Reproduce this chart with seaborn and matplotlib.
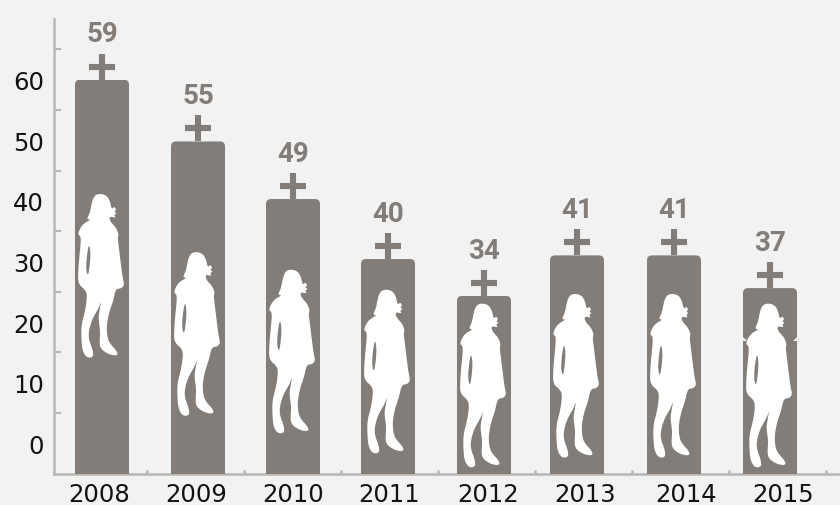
import numpy as np
import pandas as pd
import seaborn as sns
from matplotlib import pyplot as plt
from matplotlib.patches import FancyBboxPatch, PathPatch, Polygon
from matplotlib.path import Path
from matplotlib.transforms import Affine2D, IdentityTransform

years = ['2008', '2009', '2010', '2011', '2012', '2013', '2014', '2015']
# height of each bar read against the axis numbers
bar_values = [60, 49.8, 40.3, 30.4, 24.3, 31, 31, 25.6]
# number printed above each bar (does not match the axis in the original)
top_labels = [59, 55, 49, 40, 34, 41, 41, 37]
# where the head of each figure starts, in axis units
figure_tops = [41.1, 31.5, 28.6, 25.3, 23, 24.6, 24.6, 23]
y_labels = [0, 10, 20, 30, 40, 50, 60]

# the original is hand laid out, so the x axis just runs in pixels
bar_centres = [102, 198, 293, 388, 484, 577, 674, 770]
label_centres = [99, 196, 293, 389, 488, 585, 686, 783]

BG = '#f2f2f2'
BAR = '#827d78'
AXIS = '#b9b6b1'

# silhouette, zoomed pixels, y pointing down
outline = [
    (385, 252), (398, 254), (409, 262), (416, 278), (420, 298), (428, 290), (434, 300), (427, 306),
    (436, 310), (427, 315), (433, 324), (417, 320), (413, 325), (418, 338), (432, 352), (441, 372),
    (438, 386), (440, 400), (446, 450), (453, 505), (458, 524), (449, 536), (432, 537), (424, 575),
    (413, 605), (405, 645), (406, 675), (412, 698), (438, 726), (436, 738), (410, 733), (388, 718),
    (383, 700), (386, 665), (380, 625), (383, 605), (389, 572), (381, 595), (363, 625), (353, 655),
    (350, 685), (364, 722), (365, 742), (345, 744), (332, 722), (329, 685), (329, 645), (340, 605),
    (346, 565), (344, 543), (320, 523), (319, 490), (323, 440), (329, 380), (318, 374), (327, 352),
    (338, 340), (358, 329), (345, 328), (355, 308), (360, 280), (366, 262), (374, 254),
]
arm_gap = [(352, 400), (345, 440), (343, 480), (349, 499), (354, 470), (357, 430)]


def smooth(ring, rounds=2):
    # corner cutting, the trace is only a rough polygon
    for _ in range(rounds):
        nxt = np.roll(ring, -1, axis=0)
        ring = np.column_stack([0.75 * ring + 0.25 * nxt, 0.25 * ring + 0.75 * nxt]).reshape(-1, 2)
    return ring


def silhouette_path():
    pts = smooth(np.array(outline, dtype=float))
    hole = smooth(np.array(arm_gap, dtype=float))
    area = lambda p: np.sum(p[:, 0] * np.roll(p[:, 1], -1) - np.roll(p[:, 0], -1) * p[:, 1])
    if np.sign(area(pts)) == np.sign(area(hole)):
        hole = hole[::-1]
    verts, codes = [], []
    for ring in (pts, hole):
        ring = (ring - [385, 253]) / 3
        verts += list(ring) + [ring[0]]
        codes += [Path.MOVETO] + [Path.LINETO] * (len(ring) - 1) + [Path.CLOSEPOLY]
    return Path(verts, codes)


df = pd.DataFrame({'pos': bar_centres, 'value': bar_values})
df['height'] = df['value'] + 5  # bars start at the foot of the axis, not at 0

sns.set_style('ticks', {'axes.facecolor': BG, 'figure.facecolor': BG})
plt.rcParams['font.family'] = ['DejaVu Sans']

fig = plt.figure(figsize=(8.4, 5.06), dpi=100)
ax = fig.add_axes([53.5 / 840, 31.5 / 506, 786.5 / 840, 455 / 506])

# native width unit is the smallest gap between bars (93 here), bars are 54 wide
sns.barplot(data=df, x='pos', y='height', native_scale=True, color=BAR, saturation=1,
            width=54 / 93, bottom=-5, linewidth=0, zorder=3, ax=ax)

ax.set_xlim(53.5, 840)
ax.set_ylim(-5, 70.1)
ax.set_xlabel('')
ax.set_ylabel('')

# labels sit on their own spacing, the small marks on another one
ax.set_xticks(label_centres, years)
ax.set_xticks([147 + 97 * k for k in range(8)], minor=True)
ax.tick_params(axis='x', which='major', length=0, pad=6, labelsize=17.5, labelcolor='#111111')
ax.tick_params(axis='x', which='minor', direction='in', length=3, width=1.8, color=AXIS)

ax.set_yticks(y_labels)
ax.set_yticks(np.arange(5, 70, 10), minor=True)
ax.tick_params(axis='y', which='major', length=0, pad=7, labelsize=17.5, labelcolor='#111111')
ax.tick_params(axis='y', which='minor', direction='in', length=5, width=1.5, color=AXIS)

for side in ['top', 'right']:
    ax.spines[side].set_visible(False)
for side in ['left', 'bottom']:
    ax.spines[side].set_color(AXIS)
    ax.spines[side].set_linewidth(1.8)

# crosses on top of the bars
unit_px = 455 / 75.1
cross_y = [v + 13 / unit_px for v in bar_values]
sns.scatterplot(x=bar_centres, y=cross_y, marker='+', s=18.7 ** 2, linewidth=4.4,
                color=BAR, zorder=3, ax=ax, legend=False)

for x, v, lab in zip(bar_centres, bar_values, top_labels):
    ax.annotate(str(lab), (x, v), xytext=(0, 33), textcoords='offset points', ha='center',
                va='center', color=BAR, fontsize=20, fontweight='bold', family='Roboto')

# rounded top corners on the bars
for bar in ax.patches:
    box = bar.get_window_extent()
    r = 5
    clip = FancyBboxPatch((box.x0 + r, box.y0 - 10 + r), box.width - 2 * r, box.height + 10 - 2 * r,
                          boxstyle=f'round,pad={r},rounding_size={r}', transform=IdentityTransform())
    bar.set_clip_path(clip)

# the 2015 bar has a small notch on each side where its two pieces meet
for edge, inner in [(743, 747), (797, 793)]:
    ax.add_patch(Polygon([(edge, 17.6), (edge, 16.9), (inner, 16.9)], facecolor=BG, edgecolor='none', zorder=3.5))

woman = silhouette_path()
for x, top in zip(bar_centres, figure_tops):
    x_px, y_px = ax.transData.transform((x, top))
    place = Affine2D().scale(1, -1).translate(x_px - 2, y_px)
    ax.add_patch(PathPatch(woman, facecolor='white', edgecolor='none', transform=place, zorder=4))

fig.savefig('out.png', dpi=100, facecolor=BG)
